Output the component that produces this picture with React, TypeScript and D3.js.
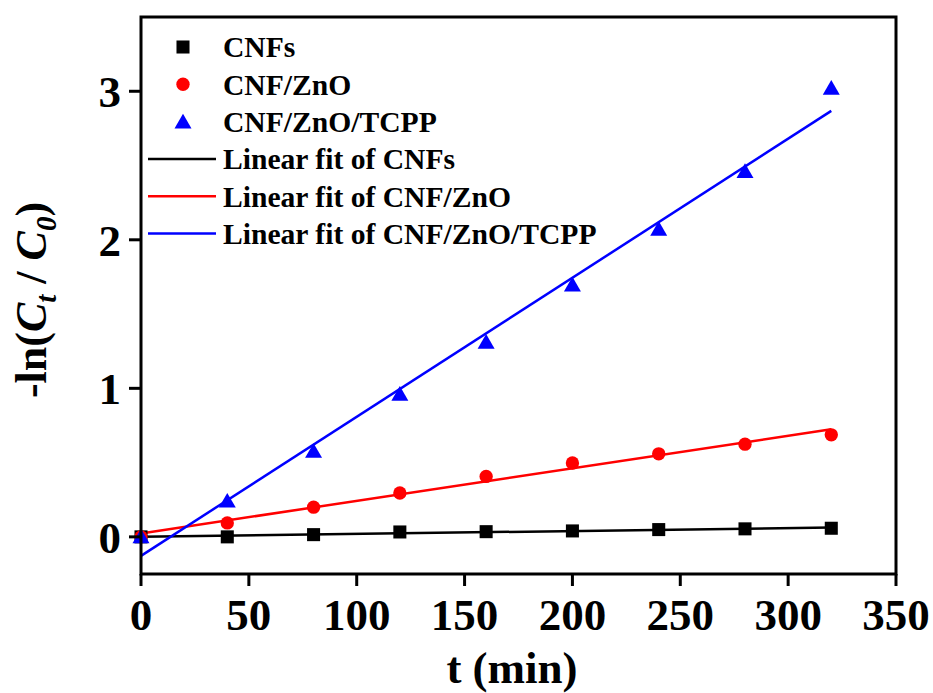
import React from "react";
import * as d3 from "d3";

// time points (min)
const times = [0, 40, 80, 120, 160, 200, 240, 280, 320];

// -ln(Ct/C0)
const cnfs = [0, 0.0, 0.015, 0.033, 0.035, 0.04, 0.049, 0.054, 0.058];
const cnfZno = [0, 0.094, 0.2, 0.295, 0.407, 0.497, 0.559, 0.624, 0.687];
const cnfZnoTcpp = [0, 0.24, 0.575, 0.96, 1.31, 1.695, 2.07, 2.46, 3.02];

const seriesNames = ["CNFs", "CNF/ZnO", "CNF/ZnO/TCPP"];
const seriesColors = ["#000000", "#ff0000", "#0000ff"];
const seriesShapes = [d3.symbolSquare, d3.symbolCircle, d3.symbolTriangle];

const xTicks = [0, 50, 100, 150, 200, 250, 300, 350];
const yTicks = [0, 1, 2, 3];

const W = 933;
const H = 693;
const m = { left: 141, right: 37, top: 17, bottom: 119 };
const FONT = "'Liberation Serif', 'Times New Roman', serif";

// simple least squares, the fit lines are "Linear fit of ..."
function linFit(xs: number[], ys: number[]) {
  const mx = d3.mean(xs)!;
  const my = d3.mean(ys)!;
  let sxy = 0;
  let sxx = 0;
  xs.forEach((x, i) => {
    sxy += (x - mx) * (ys[i] - my);
    sxx += (x - mx) * (x - mx);
  });
  const b = sxy / sxx;
  return { a: my - b * mx, b };
}

const App = () => {
  const x = d3.scaleLinear().domain([0, 350]).range([m.left, W - m.right]);
  const y = d3.scaleLinear().domain([-0.25, 3.5]).range([H - m.bottom, m.top]);

  const allSeries = [cnfs, cnfZno, cnfZnoTcpp];
  const fits = allSeries.map((s) => linFit(times, s));
  const t0 = d3.min(times)!;
  const t1 = d3.max(times)!;

  const symSize = [170, 140, 125];
  const legendX = 183;
  const legendY0 = 47;
  const rowH = 37.3;

  return (
    <svg
      width={W}
      height={H}
      style={{ position: "absolute", left: 0, top: 0, background: "#fff" }}
      fontFamily={FONT}
      fontWeight="bold"
    >
      {/* fit lines */}
      {fits.map((f, i) => (
        <path
          key={"fit" + i}
          d={d3
            .line<number>()
            .x((t) => x(t))
            .y((t) => y(f.a + f.b * t))([t0, t1]) ?? ""}
          stroke={seriesColors[i]}
          strokeWidth={2.5}
          fill="none"
        />
      ))}

      {/* data markers */}
      {allSeries.map((s, i) =>
        s.map((v, j) => (
          <path
            key={`p${i}-${j}`}
            d={d3.symbol().type(seriesShapes[i]).size(symSize[i])() ?? ""}
            transform={`translate(${x(times[j])},${y(v) + (i === 2 ? 1.5 : 0)})`}
            fill={seriesColors[i]}
          />
        ))
      )}

      {/* frame */}
      <rect
        x={x(0)}
        y={m.top}
        width={x(350) - x(0)}
        height={H - m.bottom - m.top}
        fill="none"
        stroke="#000"
        strokeWidth={3}
      />

      {/* x axis ticks */}
      {xTicks.map((t) => (
        <g key={"xt" + t} transform={`translate(${x(t)},${H - m.bottom})`}>
          <line y1={0} y2={12} stroke="#000" strokeWidth={3} />
          <text y={56} textAnchor="middle" fontSize={45}>
            {t}
          </text>
        </g>
      ))}

      {/* y axis ticks */}
      {yTicks.map((t) => (
        <g key={"yt" + t} transform={`translate(${m.left},${y(t)})`}>
          <line x1={0} x2={-12} stroke="#000" strokeWidth={3} />
          <text x={-20} dy="0.35em" textAnchor="end" fontSize={45}>
            {t}
          </text>
        </g>
      ))}

      {/* axis titles */}
      <text x={512} y={683} textAnchor="middle" fontSize={45}>
        t (min)
      </text>
      <text
        transform={`translate(46,300) rotate(-90)`}
        textAnchor="middle"
        fontSize={44}
      >
        -ln(
        <tspan fontStyle="italic">C</tspan>
        <tspan fontStyle="italic" fontSize={29} dy={10}>
          t
        </tspan>
        <tspan dy={-10}> / </tspan>
        <tspan fontStyle="italic">C</tspan>
        <tspan fontStyle="italic" fontSize={29} dy={10}>
          0
        </tspan>
        <tspan dy={-10}>)</tspan>
      </text>

      {/* legend */}
      {seriesNames.map((n, i) => (
        <g key={"lg" + i} transform={`translate(0,${legendY0 + i * rowH})`}>
          <path
            d={d3.symbol().type(seriesShapes[i]).size(symSize[i])() ?? ""}
            transform={`translate(${legendX},${i === 2 ? 2 : 0})`}
            fill={seriesColors[i]}
          />
          <text x={223} dy="0.35em" fontSize={29.6}>
            {n}
          </text>
        </g>
      ))}
      {seriesNames.map((n, i) => (
        <g key={"lf" + i} transform={`translate(0,${legendY0 + (i + 3) * rowH})`}>
          <line x1={148} x2={216} stroke={seriesColors[i]} strokeWidth={2.5} />
          <text x={223} dy="0.35em" fontSize={29.6}>
            {"Linear fit of " + n}
          </text>
        </g>
      ))}
    </svg>
  );
};

export default App;
